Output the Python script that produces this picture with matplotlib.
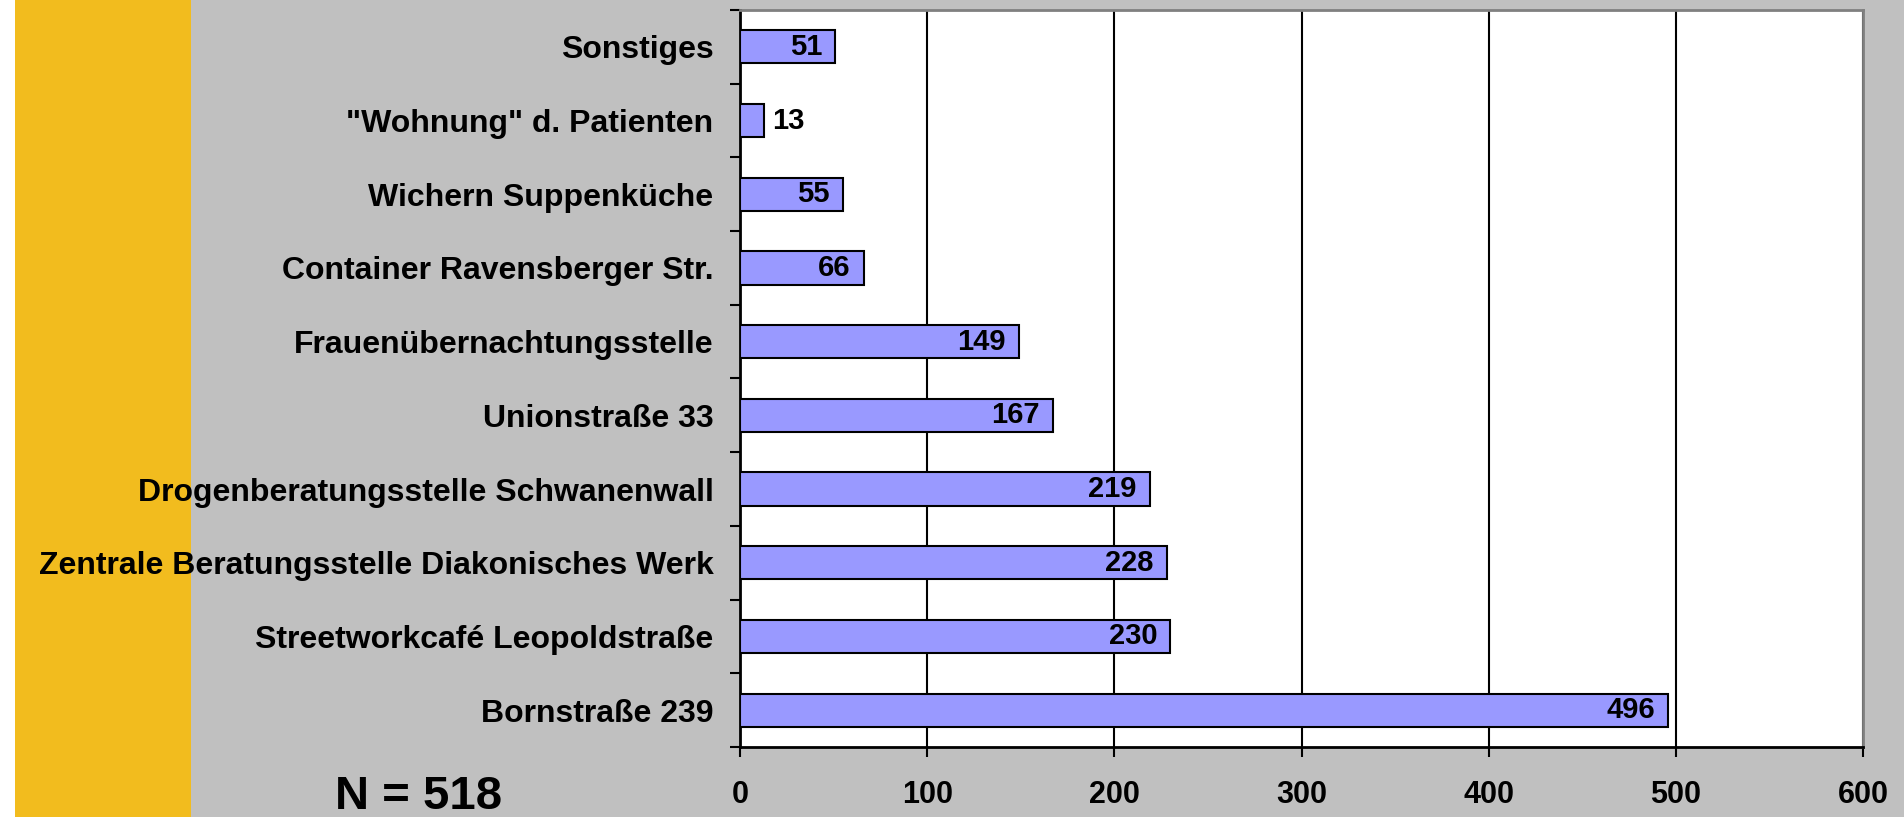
import numpy as np
import matplotlib
matplotlib.use("Agg")
import matplotlib.pyplot as plt
from matplotlib.patches import Rectangle

# data, bottom to top
categories = ["Bornstraße 239", "Streetworkcafé Leopoldstraße",
              "Zentrale Beratungsstelle Diakonisches Werk",
              "Drogenberatungsstelle Schwanenwall", "Unionstraße 33",
              "Frauenübernachtungsstelle", "Container Ravensberger Str.",
              "Wichern Suppenküche", "\"Wohnung\" d. Patienten", "Sonstiges"]
values = [496, 230, 228, 219, 167, 149, 66, 55, 13, 51]
x_ticks = [0, 100, 200, 300, 400, 500, 600]
total_label = "N = 518"

plt.rcParams['font.family'] = ['Liberation Sans', 'DejaVu Sans']
plt.rcParams['font.weight'] = 'bold'

fig = plt.figure(figsize=(19.04, 8.17), dpi=100)
fig.patch.set_facecolor('#C0C0C0')
# yellow strip on the left, behind everything
fig.patches.append(Rectangle((15/1904, 0), 176/1904, 1, transform=fig.transFigure,
                             facecolor='#F2BC1E', edgecolor='none', zorder=-10))
fig.patches.append(Rectangle((0, 0), 15/1904, 1, transform=fig.transFigure,
                             facecolor='white', edgecolor='none', zorder=-10))

ax = fig.add_axes([740/1904, 70/817, 1123/1904, 737/817])
ax.set_facecolor('white')

y = np.arange(len(categories))
bars = ax.barh(y, values, height=0.45, color='#9999FF', edgecolor='black',
               linewidth=1.5, zorder=3)

for yi, v in zip(y, values):
    if v < 30:
        ax.text(v + 4, yi, str(v), ha='left', va='center', fontsize=21,
                fontweight='bold', zorder=4)
    else:
        ax.text(v - 7, yi, str(v), ha='right', va='center', fontsize=21,
                fontweight='bold', zorder=4)

ax.set_xlim(0, 600)
ax.set_ylim(-0.5, len(categories) - 0.5)
ax.set_xticks(x_ticks)
ax.set_xticklabels([str(t) for t in x_ticks], fontsize=22, fontweight='bold')
ax.tick_params(axis='x', direction='out', length=7, width=1.5, pad=17)

ax.set_yticks(y)
ax.set_yticklabels(categories, fontsize=23, fontweight='bold')
ax.tick_params(axis='y', which='major', length=0, pad=19)
ax.set_yticks(np.arange(len(categories) + 1) - 0.5, minor=True)
ax.tick_params(axis='y', which='minor', direction='out', length=7, width=1.5)

ax.grid(axis='x', color='black', linewidth=1.5, zorder=1)
ax.set_axisbelow(True)

ax.spines['left'].set_linewidth(2)
ax.spines['bottom'].set_linewidth(2)
ax.spines['top'].set_color('#808080')
ax.spines['right'].set_color('#808080')
ax.spines['top'].set_linewidth(2)
ax.spines['right'].set_linewidth(2)

fig.text(419/1904, 1 - 797/817, total_label, ha='center', va='center',
         fontsize=34, fontweight='bold')

fig.savefig('out.png', dpi=100, facecolor=fig.get_facecolor())
